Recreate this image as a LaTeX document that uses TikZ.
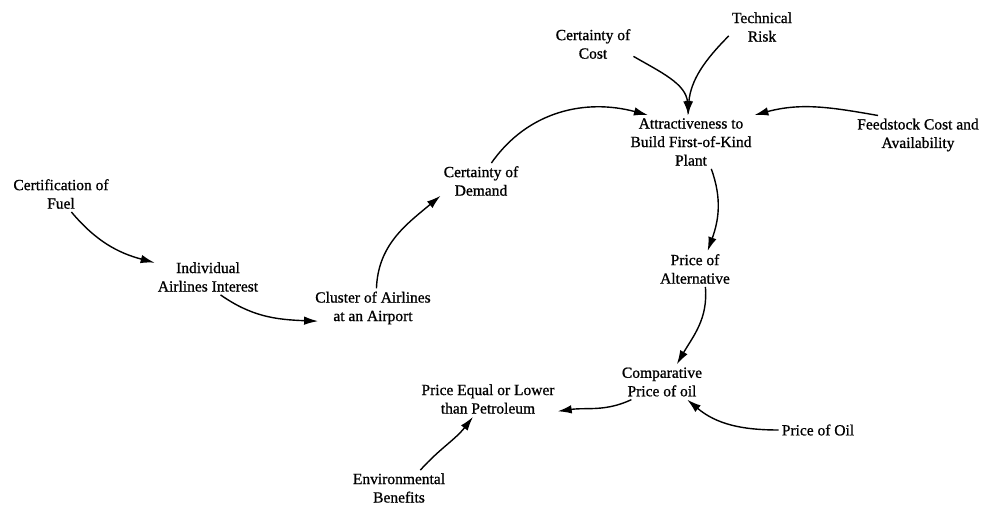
\documentclass[tikz,border=0pt]{standalone}
\usepackage{fontspec}
\setmainfont{Liberation Serif}[FakeBold=0.9]
\usetikzlibrary{arrows.meta}

\begin{document}
\begin{tikzpicture}[
    x=1pt,y=1pt,
    var/.style={align=center,inner sep=3pt,font=\fontsize{15.5}{18.5}\selectfont},
    lnk/.style={line width=1.4pt,-{Latex[length=14pt,width=8.5pt]}}
]
    \useasboundingbox (0,0) rectangle (986,504);
    % variables
    \node[var] (cert) at (61,310) {Certification of\\Fuel};
    \node[var] (indiv) at (208,227) {Individual\\Airlines Interest};
    \node[var] (cluster) at (373,196) {Cluster of Airlines\\at an Airport};
    \node[var] (demand) at (481,323) {Certainty of\\Demand};
    \node[var] (attr) at (691,362) {Attractiveness to\\Build First-of-Kind\\Plant};
    \node[var] (cost) at (593,460) {Certainty of\\Cost};
    \node[var] (risk) at (762,477) {Technical\\Risk};
    \node[var] (feed) at (918,369) {Feedstock Cost and\\Availability};
    \node[var] (alt) at (695,235) {Price of\\Alternative};
    \node[var] (comp) at (662,122) {Comparative\\Price of oil};
    \node[var] (equal) at (488,105) {Price Equal or Lower\\than Petroleum};
    \node[var] (oil) at (818,74) {Price of Oil};
    \node[var] (env) at (399,16) {Environmental\\Benefits};
    % links
    \draw[lnk] (cert.-60) to[out=-50,in=165] (indiv.165);
    \draw[lnk,shorten >=-6pt] (indiv.-55) to[out=-35,in=178] (cluster.192);
    \draw[lnk] (cluster.80) to[out=88,in=220] (demand.200);
    \draw[lnk] (demand.60) to[out=55,in=165] (attr.148);
    \draw[lnk] (cost.-17) to[out=-30,in=95] (attr.95);
    \draw[lnk] (risk.195) to[out=225,in=85] (attr.97);
    \draw[lnk] (feed.154) to[out=170,in=15] (attr.23);
    \draw[lnk] (attr.-53) to[out=-70,in=70] (alt.55);
    \draw[lnk] (alt.-60) to[out=-85,in=60] (comp.50);
    \draw[lnk] (oil.west) to[out=180,in=-40] (comp.-35);
    \draw[lnk] (comp.210) to[out=205,in=8] (equal.-10);
    \draw[lnk] (env.40) to[out=48,in=-128] (equal.-130);
\end{tikzpicture}
\end{document}
